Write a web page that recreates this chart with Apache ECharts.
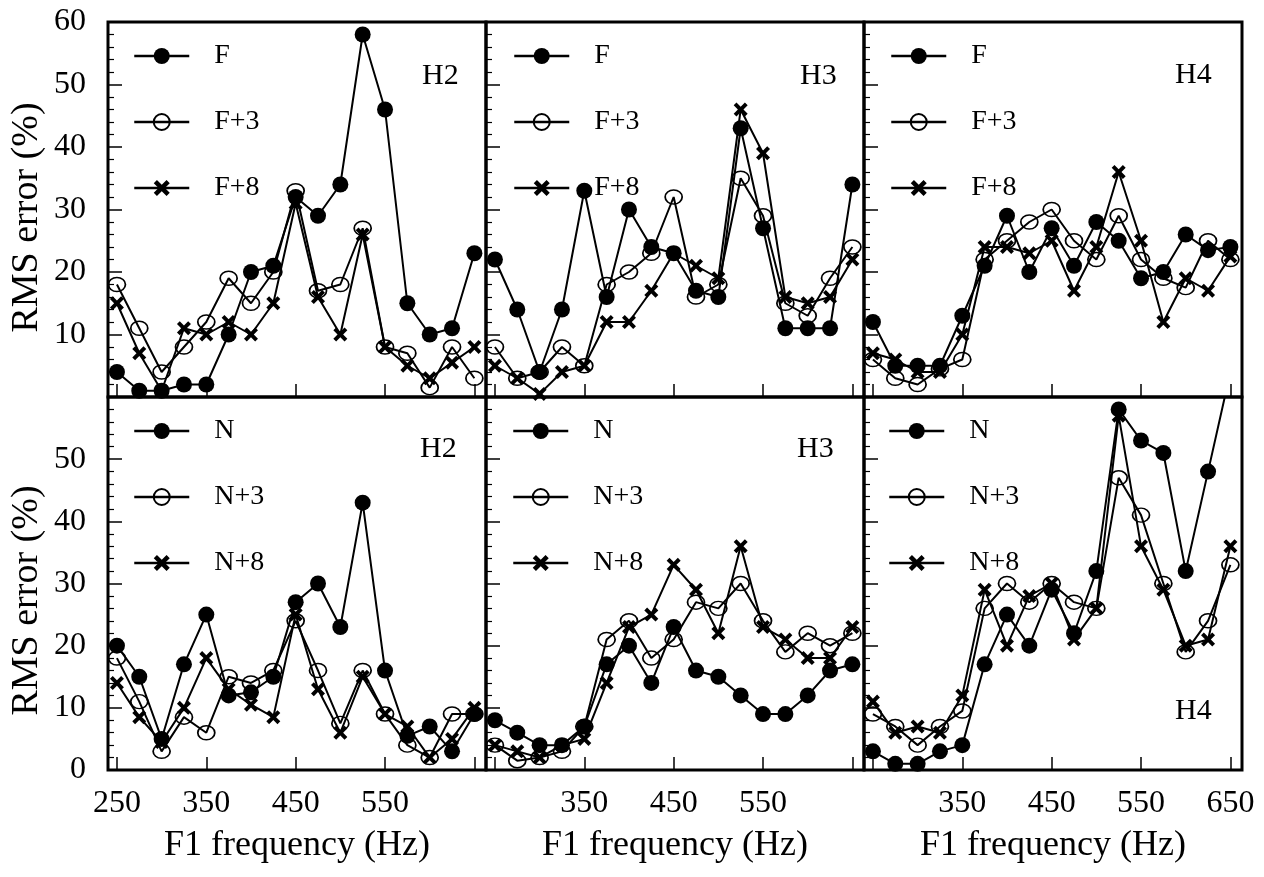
<!DOCTYPE html>
<html>
<head>
<meta charset="utf-8">
<script src="https://cdn.jsdelivr.net/npm/echarts@6/dist/echarts.min.js"></script>
<style>
  html, body { margin: 0; padding: 0; background: #fff; }
  #chart { width: 1264px; height: 877px; }
</style>
</head>
<body>
<div id="chart"></div>
<script>
// F1 frequencies of the data points (Hz)
const freqs = [250, 275, 300, 325, 350, 375, 400, 425, 450, 475, 500, 525, 550, 575, 600, 625, 650];

// top row: F, F+3, F+8
const h2F  = [4, 1, 1, 2, 2, 10, 20, 21, 32, 29, 34, 58, 46, 15, 10, 11, 23];
const h2F3 = [18, 11, 4, 8, 12, 19, 15, 20, 33, 17, 18, 27, 8, 7, 1.5, 8, 3];
const h2F8 = [15, 7, 1, 11, 10, 12, 10, 15, 31, 16, 10, 26, 8, 5, 3, 5.5, 8];

const h3F  = [22, 14, 4, 14, 33, 16, 30, 24, 23, 17, 16, 43, 27, 11, 11, 11, 34];
const h3F3 = [8, 3, 4, 8, 5, 18, 20, 23, 32, 16, 18, 35, 29, 15, 13, 19, 24];
const h3F8 = [5, 3, 0.5, 4, 5, 12, 12, 17, 23, 21, 19, 46, 39, 16, 15, 16, 22];

const h4F  = [12, 5, 5, 5, 13, 21, 29, 20, 27, 21, 28, 25, 19, 20, 26, 23.5, 24];
const h4F3 = [6, 3, 2, 4.5, 6, 22, 25, 28, 30, 25, 22, 29, 22, 19, 17.5, 25, 22];
const h4F8 = [7, 6, 4, 4, 10, 24, 24, 23, 25, 17, 24, 36, 25, 12, 19, 17, 22.5];

// bottom row: N, N+3, N+8
const h2N  = [20, 15, 5, 17, 25, 12, 12.5, 15, 27, 30, 23, 43, 16, 5.5, 7, 3, 9];
const h2N3 = [18, 11, 3, 8.5, 6, 15, 14, 16, 24, 16, 7.5, 16, 9, 4, 2, 9, 9];
const h2N8 = [14, 8.5, 4.5, 10, 18, 13, 10.5, 8.5, 25, 13, 6, 15, 9, 7, 2, 5, 10];

const h3N  = [8, 6, 4, 4, 7, 17, 20, 14, 23, 16, 15, 12, 9, 9, 12, 16, 17];
const h3N3 = [4, 1.5, 2, 3, 7, 21, 24, 18, 21, 27, 26, 30, 24, 19, 22, 20, 22];
const h3N8 = [4, 3, 2, 4, 5, 14, 23, 25, 33, 29, 22, 36, 23, 21, 18, 18, 23];

const h4N  = [3, 1, 1, 3, 4, 17, 25, 20, 29, 22, 32, 58, 53, 51, 32, 48, 64];
const h4N3 = [9, 7, 4, 7, 9.5, 26, 30, 27, 30, 27, 26, 47, 41, 30, 19, 24, 33];
const h4N8 = [11, 6, 7, 6, 12, 29, 20, 28, 30, 21, 26, 57, 36, 29, 20, 21, 36];

const xTicks = [250, 350, 450, 550, 650];
const xLabels = [[250, 350, 450, 550], [350, 450, 550], [350, 450, 550, 650]];
const yLabelsTop = [10, 20, 30, 40, 50, 60];
const yLabelsBottom = [0, 10, 20, 30, 40, 50];

const FONT = 'Liberation Serif';
const xPath = 'path://M20,0 L50,30 L80,0 L100,20 L70,50 L100,80 L80,100 L50,70 L20,100 L0,80 L30,50 L0,20 Z';

const panelLeft = [108, 486, 864];
const panelTop = [22, 397];
const panelW = 378;
const panelH = [375, 373];

let grids = [], xAxes = [], yAxes = [], series = [], legends = [], titles = [];

function pairs(vals) {
  return freqs.map((f, i) => [f, vals[i]]);
}

function addSeries(name, vals, gi, kind) {
  let s = {
    name: name,
    type: 'line',
    xAxisIndex: gi,
    yAxisIndex: gi,
    data: pairs(vals),
    lineStyle: { color: '#000', width: 2 },
    emphasis: { disabled: true },
    animation: false
  };
  if (kind == 'fill') {
    s.symbol = 'circle';
    s.symbolSize = 16;
    s.itemStyle = { color: '#000' };
    s.z = 4;
  } else if (kind == 'open') {
    s.symbol = 'circle';
    s.symbolSize = [17, 14];
    s.itemStyle = { color: 'rgba(255,255,255,0)', borderColor: '#000', borderWidth: 1.6 };
    s.z = 3;
  } else {
    s.symbol = xPath;
    s.symbolSize = 14;
    s.itemStyle = { color: '#000' };
    s.z = 3;
  }
  series.push(s);
}

const sets = [
  [[h2F, h2F3, h2F8], [h3F, h3F3, h3F8], [h4F, h4F3, h4F8]],
  [[h2N, h2N3, h2N8], [h3N, h3N3, h3N8], [h4N, h4N3, h4N8]]
];
const names = [['F', 'F+3', 'F+8'], ['N', 'N+3', 'N+8']];
const hLabels = [['H2', 'H3', 'H4'], ['H2', 'H3', 'H4']];
const hPos = [
  [[422, 61], [800, 61], [1175, 60]],
  [[420, 434], [797, 434], [1175, 696]]
];
const legendLeft = [[133, 513, 890], [133, 512, 888]];

for (let r = 0; r < 2; r++) {
  for (let c = 0; c < 3; c++) {
    let gi = r * 3 + c;
    grids.push({
      left: panelLeft[c], top: panelTop[r], width: panelW, height: panelH[r],
      show: true, borderColor: '#000', borderWidth: 3, backgroundColor: 'transparent',
      outerBoundsMode: 'none'
    });
    xAxes.push({
      type: 'value', gridIndex: gi, min: 240, max: 663,
      axisLine: { show: false },
      splitLine: { show: false },
      axisTick: { show: true, inside: true, length: 13, customValues: xTicks,
                  lineStyle: { color: '#000', width: 1.5 } },
      axisLabel: { show: r == 1, customValues: xLabels[c], margin: 18,
                   color: '#000', fontFamily: FONT, fontSize: 32 },
      name: r == 1 ? 'F1 frequency (Hz)' : '',
      nameLocation: 'middle', nameGap: 58,
      nameTextStyle: { color: '#000', fontFamily: FONT, fontSize: 36 }
    });
    yAxes.push({
      type: 'value', gridIndex: gi, min: 0, max: 60, interval: 10,
      axisLine: { show: false },
      splitLine: { show: false },
      axisTick: { show: true, inside: true, length: 14, lineStyle: { color: '#000', width: 1.5 } },
      minorTick: { show: true, splitNumber: 5, length: 6, lineStyle: { color: '#000', width: 1.2 } },
      minorSplitLine: { show: false },
      axisLabel: { show: c == 0, customValues: r == 0 ? yLabelsTop : yLabelsBottom, margin: 22,
                   color: '#000', fontFamily: FONT, fontSize: 32 },
      name: c == 0 ? 'RMS error (%)' : '',
      nameLocation: 'middle', nameGap: 62,
      nameTextStyle: { color: '#000', fontFamily: FONT, fontSize: 38,
                       padding: [0, r == 0 ? 16 : 34, 0, 0] }
    });
    let set = sets[r][c];
    addSeries(names[r][0], set[0], gi, 'fill');
    addSeries(names[r][1], set[1], gi, 'open');
    addSeries(names[r][2], set[2], gi, 'cross');
    legends.push({
      orient: 'vertical', left: legendLeft[r][c], top: panelTop[r] + 20,
      data: names[r], itemWidth: 55, itemHeight: 20, itemGap: 38,
      selectedMode: false, padding: 0,
      lineStyle: { width: 2.5 },
      textStyle: { color: '#000', fontFamily: FONT, fontSize: 28, lineHeight: 20,
                   padding: [0, 0, 0, 20] }
    });
    titles.push({
      text: hLabels[r][c], left: hPos[r][c][0], top: hPos[r][c][1], padding: 0,
      textStyle: { color: '#000', fontFamily: FONT, fontSize: 30, fontWeight: 'normal' }
    });
  }
}

const chart = echarts.init(document.getElementById('chart'));
chart.setOption({
  backgroundColor: '#fff',
  animation: false,
  title: titles,
  legend: legends,
  grid: grids,
  xAxis: xAxes,
  yAxis: yAxes,
  series: series
});
</script>
</body>
</html>
